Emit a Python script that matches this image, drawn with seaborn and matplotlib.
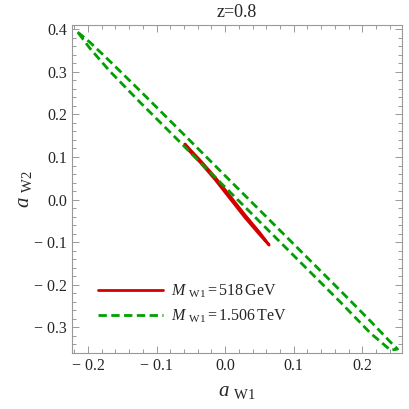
import numpy as np
import pandas as pd
import matplotlib
matplotlib.use("Agg")
import matplotlib.pyplot as plt
from matplotlib.ticker import MultipleLocator
import seaborn as sns

# contour of the M_W1 = 518 GeV region (red)
red_x = [-0.0586, -0.0367, -0.0148, 0.0072, 0.0291, 0.0510, 0.0642,
         0.0510, 0.0291, 0.0072, -0.0148, -0.0367, -0.0513, -0.0586]
red_y = [0.1303, 0.0927, 0.0528, 0.0082, -0.0364, -0.0786, -0.1068,
         -0.0835, -0.0425, 0.0022, 0.0472, 0.0880, 0.1125, 0.1303]

# contour of the M_W1 = 1.506 TeV region (green)
green_x = [-0.2151, -0.1975, -0.1683, -0.1244, -0.0659, -0.0075, 0.0510,
           0.1095, 0.1680, 0.2119, 0.2411, 0.2514,
           0.2411, 0.2119, 0.1680, 0.1095, 0.0510, -0.0075, -0.0659,
           -0.1244, -0.1683, -0.1975, -0.2151]
green_y = [0.3932, 0.3697, 0.3251, 0.2559, 0.1620, 0.0681, -0.0258,
           -0.1197, -0.2136, -0.2852, -0.3345, -0.3509,
           -0.3533, -0.3134, -0.2406, -0.1467, -0.0528, 0.0411, 0.1350,
           0.2289, 0.3016, 0.3556, 0.3932]

xticks = [-0.2, -0.1, 0.0, 0.1, 0.2]
xtick_labels = ["\u2212 0.2", "\u2212 0.1", "0.0", "0.1", "0.2"]
yticks = [-0.3, -0.2, -0.1, 0.0, 0.1, 0.2, 0.3, 0.4]
ytick_labels = ["\u2212 0.3", "\u2212 0.2", "\u2212 0.1", "0.0", "0.1", "0.2", "0.3", "0.4"]

sns.set_style("ticks")
plt.rcParams["font.family"] = ["Liberation Serif", "DejaVu Serif"]
plt.rcParams["mathtext.fontset"] = "custom"
plt.rcParams["mathtext.rm"] = "Liberation Serif"
plt.rcParams["mathtext.it"] = "Liberation Serif:italic"

fig = plt.figure(figsize=(4.09, 4.09), dpi=100)
ax = fig.add_axes([0.176, 0.137, 0.807, 0.802])

red = pd.DataFrame({"x": red_x, "y": red_y})
green = pd.DataFrame({"x": green_x, "y": green_y})

sns.lineplot(data=red, x="x", y="y", sort=False, estimator=None, ax=ax,
             color="#d40000", lw=2.0, label=r"$M\ _{\rm W1}=518\,{\rm GeV}$")
sns.lineplot(data=green, x="x", y="y", sort=False, estimator=None, ax=ax,
             color="#00a000", lw=2.0, dashes=False,
             label=r"$M\ _{\rm W1}=1.506\,{\rm TeV}$")
ax.lines[1].set_dashes((3, 1.6))

ax.set_xlim(-0.2234, 0.258)
ax.set_ylim(-0.36, 0.41)

ax.set_xticks(xticks, xtick_labels)
ax.set_yticks(yticks, ytick_labels)
ax.xaxis.set_minor_locator(MultipleLocator(0.02))
ax.yaxis.set_minor_locator(MultipleLocator(0.02))
ax.tick_params(which="both", direction="in", top=True, right=True,
               color="#999999", labelsize=11.5, width=0.7)
ax.tick_params(which="major", length=5)
ax.tick_params(which="minor", length=3)
for s in ax.spines.values():
    s.set_color("#999999")
    s.set_linewidth(0.8)

ax.set_xlabel(r"$a\ _{\rm W1}$", fontsize=15, labelpad=6)
ax.set_ylabel(r"$a\ _{\rm W2}$", fontsize=15, labelpad=0)
ax.set_title("z=0.8", fontsize=13, pad=6)

leg = ax.legend(loc="lower left", bbox_to_anchor=(0.035, 0.04), frameon=False,
                handlelength=4.1, fontsize=11.5, labelspacing=0.5, handletextpad=0.5)

fig.savefig("out.png", dpi=100)
